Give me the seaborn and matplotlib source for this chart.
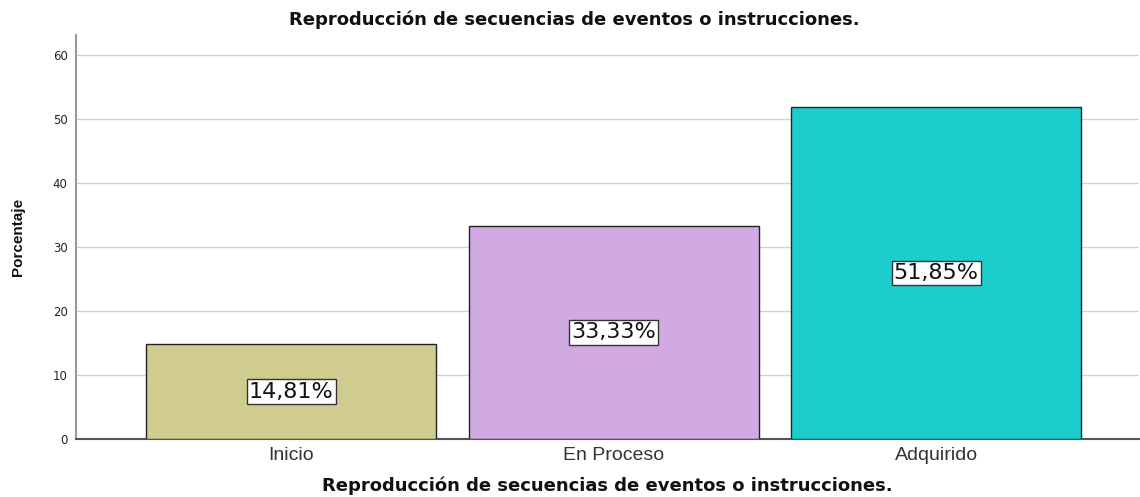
import matplotlib
matplotlib.use("Agg")
import matplotlib.pyplot as plt
import pandas as pd
import seaborn as sns

categorias = ["Inicio", "En Proceso", "Adquirido"]
porcentajes = [14.81, 33.33, 51.85]
colores = ["#D0CB8E", "#D1A9E3", "#1DCDCD"]
etiquetas = ["14,81%", "33,33%", "51,85%"]
titulo = "Reproducción de secuencias de eventos o instrucciones."

sns.set_style("white")
plt.rcParams["font.family"] = ["DejaVu Sans"]

datos = pd.DataFrame({"categoria": categorias, "porcentaje": porcentajes})

fig = plt.figure(figsize=(11.4, 4.97), dpi=100)
ax = fig.add_axes([0.0667, 0.1167, 0.932, 0.813])

sns.barplot(data=datos, x="categoria", y="porcentaje", hue="categoria",
            palette=colores, saturation=1, width=0.9, edgecolor="#222222",
            linewidth=1, legend=False, ax=ax, zorder=3)

for i, (v, t) in enumerate(zip(porcentajes, etiquetas)):
    ax.text(i, v / 2, t, ha="center", va="center", fontsize=16, zorder=5,
            color="#111111",
            bbox=dict(boxstyle="square,pad=0.1", facecolor="white",
                      edgecolor="#333333", linewidth=1))

ax.set_xlim(-0.667, 2.627)
ax.set_ylim(0, 63.1)
ax.set_yticks([0, 10, 20, 30, 40, 50, 60])
ax.yaxis.grid(True, color="#d4d4d4", linewidth=1, zorder=0)
ax.set_axisbelow(True)
ax.tick_params(axis="y", labelsize=8.5, length=0, pad=6, labelcolor="#222222")
ax.tick_params(axis="x", length=0, pad=6)
for lbl in ax.get_xticklabels():
    lbl.set_fontfamily("Liberation Sans")
    lbl.set_fontsize(14)
    lbl.set_color("#333333")

sns.despine(ax=ax, top=True, right=True)
ax.spines["left"].set_color("#999999")
ax.spines["left"].set_linewidth(1.5)
ax.spines["bottom"].set_color("#555555")
ax.spines["bottom"].set_linewidth(1.5)

fig.suptitle(titulo, x=0.504, y=0.978, va="top", fontsize=13,
             fontweight="bold", color="#111111")
ax.set_xlabel(titulo, fontsize=13, fontweight="bold", labelpad=9,
              color="#111111")
ax.set_ylabel("Porcentaje", fontsize=11, fontweight="bold", labelpad=20,
              fontfamily="Liberation Sans", color="#111111")

fig.savefig("out.png", dpi=100)
